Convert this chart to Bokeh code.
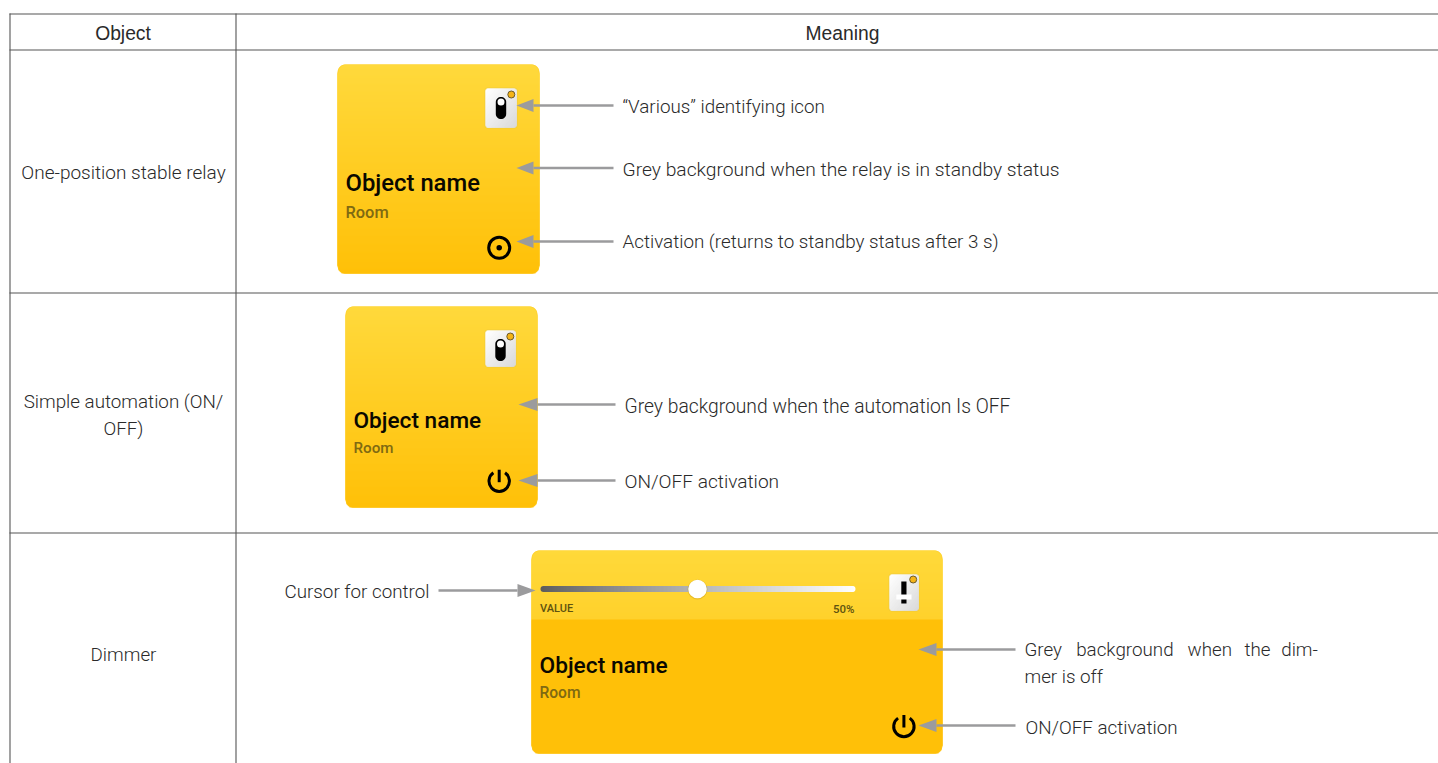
from bokeh.plotting import figure
from bokeh.embed import file_html
from bokeh.resources import INLINE
from bokeh.models import Range1d
from bokeh.core.properties import value
import math

# ---- content ----
headers = ["Object", "Meaning"]
row_labels = [["One-position stable relay"], ["Simple automation (ON/", "OFF)"], ["Dimmer"]]
notes_relay = ["\u201cVarious\u201d identifying icon",
               "Grey background when the relay is in standby status",
               "Activation (returns to standby status after 3 s)"]
notes_auto = ["Grey background when the automation Is OFF", "ON/OFF activation"]
notes_dimmer_words = ["Grey", "background", "when", "the", "dim-"]
notes_dimmer = ["mer is off", "ON/OFF activation", "Cursor for control"]
card_title = "Object name"
card_room = "Room"
slider_label = "VALUE"
slider_value = "50%"
slider_fraction = 0.5

W, H = 1438, 763
p = figure(width=W, height=H, output_backend="svg", toolbar_location=None,
           x_range=Range1d(0, W), y_range=Range1d(H, 0),
           min_border=0, outline_line_color=None, background_fill_color="white")
p.axis.visible = False
p.grid.visible = False

SANS = "Liberation Sans"
LIGHT = "Roboto Light"
MED = "Roboto Medium"
TXT = "#2a2a2a"
GREY = "#9b9b9d"
LINE = "#555555"


def mix(c1, c2, t):
    return "#%02x%02x%02x" % tuple(round(a + (b - a) * t) for a, b in zip(c1, c2))


TOP = (255, 217, 60)
BOT = (255, 192, 8)


def rounded(l, r, t, b, rad, n=8):
    xs, ys = [], []
    for cx, cy, a0 in ((r - rad, t + rad, -90), (r - rad, b - rad, 0), (l + rad, b - rad, 90), (l + rad, t + rad, 180)):
        for i in range(n + 1):
            a = math.radians(a0 + 90 * i / n)
            xs.append(cx + rad * math.cos(a))
            ys.append(cy + rad * math.sin(a))
    return xs, ys


def card(l, r, t, b, split=None, rad=8):
    xs, ys = rounded(l, r, t, b, rad)
    p.patch(xs, ys, fill_color=mix(TOP, BOT, 0.5), line_color=None)
    L, R, T, B = [], [], [], []
    col = []
    y = t
    while y < b:
        d = 0
        if y + 0.5 < t + rad:
            d = rad - math.sqrt(max(0, rad ** 2 - (t + rad - y - 0.5) ** 2))
        elif y + 0.5 > b - rad:
            d = rad - math.sqrt(max(0, rad ** 2 - (y + 0.5 - b + rad) ** 2))
        d = math.ceil(d)
        L.append(l + d); R.append(r - d); T.append(y); B.append(min(b, y + 2))
        if split is None:
            col.append(mix(TOP, BOT, (y - t) / (b - t)))
        elif y < split:
            col.append(mix((255, 217, 58), (255, 209, 44), (y - t) / (split - t)))
        else:
            col.append(mix(BOT, BOT, 0))
        y += 1
    p.quad(left=L, right=R, top=T, bottom=B, fill_color=col, line_color=None)


def arrow(x_tip, x_base, x_end, y):
    p.segment([x_base], [y], [x_end], [y], line_color=GREY, line_width=2.6)
    p.patch([x_tip, x_base, x_base], [y, y - 6.6, y + 6.6], fill_color=GREY, line_color=None)


def tile(l, r, t, b):
    xs, ys = rounded(l - 1, r + 1, t - 1, b + 1, 3, 3)
    p.patch(xs, ys, fill_color="#e8c83c", fill_alpha=0.6, line_color=None)
    L, R, T, B, col = [], [], [], [], []
    w, h = r - l, b - t
    for j in range(h):
        for i in range(w):
            if (j == 0 or j >= h - 2) and i in (0, w - 2, w - 1):
                continue
            f = 0.5 * (i / w + j / h)
            L.append(l + i); R.append(min(r, l + i + 2)); T.append(t + j); B.append(min(b, t + j + 2))
            col.append(mix((255, 255, 255), (216, 216, 216), f))
    p.quad(left=L, right=R, top=T, bottom=B, fill_color=col, line_color=None)


def orange_dot(x, y):
    p.scatter([x], [y], size=7, marker="circle", fill_color="#f5b417", line_color="#6b5a2a", line_width=1)


def toggle(l, r, t, b):
    tile(l, r, t, b)
    cx = (l + r) / 2
    px0, px1 = cx - 5.2, cx + 5.2
    py0, py1 = t + 8.4, t + 30.6
    xs, ys = rounded(px0, px1, py0, py1, 5.2)
    p.patch(xs, ys, fill_color="black", line_color=None)
    p.scatter([cx], [py0 + 5], size=7, marker="circle", fill_color="white", line_color=None)
    orange_dot(r - 5.2, t + 6)


def power(cx, cy, rad=10.2):
    p.arc([cx], [cy], radius=rad, start_angle=math.radians(125), end_angle=math.radians(55),
          direction="anticlock", line_color="black", line_width=3)
    p.segment([cx], [cy - 11.5], [cx], [cy + 1], line_color="black", line_width=3)


def say(x, y, s, size="18.8px", color=TXT, font=LIGHT, align="left", style="normal"):
    p.text([x], [y], text=[s], text_font=value(font), text_font_size=value(size), text_color=color,
           text_align=align, text_baseline="middle", text_font_style=style)


# ---- table rules ----
vx = [9.5, 235.5]
hy = [13.5, 49.5, 292.5, 532.5]
p.segment(vx, [13] * 2, vx, [H] * 2, line_color=LINE, line_width=1.1)
p.segment([9] * 4, hy, [W] * 4, hy, line_color=LINE, line_width=1.1)

say(122.5, 33, headers[0], align="center", size="19.3px", font=SANS)
say(842, 33, headers[1], align="center", size="19.3px", font=SANS)
say(123, 172, row_labels[0][0], align="center", size="19px")
say(123, 401, row_labels[1][0], align="center")
say(123, 428, row_labels[1][1], align="center")
say(123, 654, row_labels[2][0], align="center")

# ---- card 1 ----
card(337, 539, 64, 273)
toggle(485, 516, 88, 127)
say(345, 182, card_title, size="23.8px", color="#0a0800", font=MED)
say(345, 212, card_room, size="16.4px", color="#7f6a12", font=MED)
p.scatter([498.7], [247.3], size=21, marker="circle", fill_color=None, line_color="black", line_width=3)
p.scatter([498.7], [247.3], size=5.5, marker="circle", fill_color="black", line_color=None)
arrow(516, 533, 613, 105)
arrow(516, 533, 613, 167.5)
arrow(516, 533, 613, 241)
say(622, 106, notes_relay[0])
say(622, 169, notes_relay[1], size="19.25px")
say(622, 241, notes_relay[2])

# ---- card 2 ----
card(345, 537, 306, 507)
toggle(485, 515, 330, 366)
say(353, 420, card_title, size="22.6px", color="#0a0800", font=MED)
say(353, 447, card_room, size="15.2px", color="#7f6a12", font=MED)
power(498.7, 480.7)
arrow(518, 537, 615, 404)
arrow(518, 537, 615, 480)
say(624, 406, notes_auto[0], size="19.3px")
say(624, 481, notes_auto[1], size="19.1px")

# ---- card 3 ----
card(531, 942, 550, 753, split=619)
say(539, 665, card_title, size="22.7px", color="#0a0800", font=MED)
say(539, 692, card_room, size="15.6px", color="#7f6a12", font=MED)
say(539.5, 608, slider_label, size="11px", color="#5e5210", font=MED)
say(854, 608, slider_value, size="11.5px", color="#5e5210", font=MED, align="right")
sx0, sx1 = 540, 855
L, R, col = [], [], []
x = sx0 + 3
while x < sx1 - 3:
    L.append(x); R.append(x + 2)
    col.append(mix((92, 92, 92), (255, 255, 255), ((x - sx0) / (sx1 - sx0)) ** 0.85))
    x += 1
p.scatter([sx0 + 3, sx1 - 3], [588.5, 588.5], size=6, marker="circle", fill_color=["#5c5c5c", "#ffffff"], line_color=None)
p.quad(left=L, right=R, top=[585.5] * len(L), bottom=[591.5] * len(L), fill_color=col, line_color=None)
knob = sx0 + slider_fraction * (sx1 - sx0) - 0.5
p.scatter([knob], [589], size=20, marker="circle", fill_color="#c9a020", fill_alpha=0.45, line_color=None)
p.scatter([knob], [588.5], size=18.5, marker="circle", fill_color="white", line_color=None)
# dimmer icon
tile(889, 918, 574, 610)
p.quad(left=[900.8], right=[906], top=[581], bottom=[603], fill_color="black", line_color=None)
p.quad(left=[895.8], right=[911], top=[594], bottom=[599], fill_color="white", line_color=None)
orange_dot(912.7, 579)
power(903.4, 726)
arrow(535, 517, 438, 590)
arrow(918, 936, 1015, 649)
arrow(918, 936, 1015, 725)
word_x = [1024, 1075.7, 1187, 1244, 1280.7]
for wx, w in zip(word_x, notes_dimmer_words):
    say(wx, 649, w)
say(1024, 676, notes_dimmer[0])
say(1025, 727, notes_dimmer[1])
say(284, 591, notes_dimmer[2])

open("out.html", "w").write(file_html(p, INLINE))
